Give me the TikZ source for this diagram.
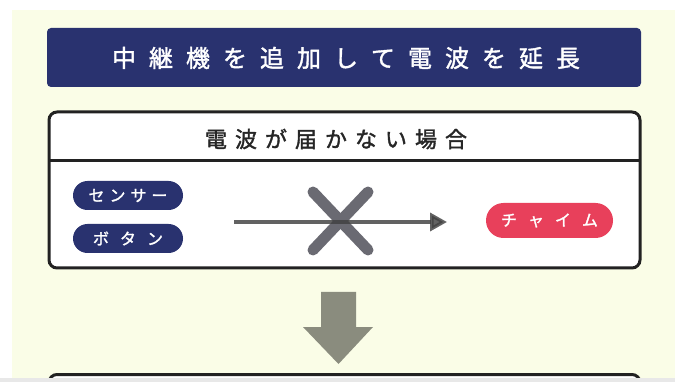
\documentclass[tikz,border=0pt]{standalone}
\usepackage{fontspec}
\setmainfont{Noto Sans CJK JP}
\newfontfamily\medfont{Noto Sans CJK JP}[FakeBold=1.6]
\usetikzlibrary{arrows.meta}
\definecolor{cream}{HTML}{FAFDE7}
\definecolor{navy}{HTML}{29326F}
\definecolor{chimered}{HTML}{E8405B}
\definecolor{xgray}{HTML}{6A6A72}
\definecolor{linegray}{HTML}{404040}
\definecolor{downgray}{HTML}{8A8C7E}
\definecolor{boxline}{HTML}{222222}
\newcommand\ksp[1]{\kern#1pt}
\tikzset{
  titlebar/.style={fill=navy, rounded corners=4pt, minimum width=594pt, minimum height=59pt, inner sep=0pt},
  titletext/.style={text=white, font=\medfont\fontsize{24pt}{28pt}\selectfont, inner sep=0pt},
  panel/.style={draw=boxline, fill=white, line width=3pt, rounded corners=8pt, minimum width=591pt, minimum height=156pt, inner sep=0pt},
  headtext/.style={text=black!85, font=\medfont\fontsize{22pt}{25pt}\selectfont, inner sep=0pt},
  navypill/.style={fill=navy, rounded corners=14.5pt, minimum width=110pt, minimum height=29pt, inner sep=0pt, text=white, font=\medfont\fontsize{16pt}{18pt}\selectfont},
  redpill/.style={fill=chimered, rounded corners=17.5pt, minimum width=127pt, minimum height=35pt, inner sep=0pt, text=white, font=\medfont\fontsize{16pt}{18pt}\selectfont},
  xstroke/.style={draw=xgray, line width=11pt, line cap=round},
  signal/.style={draw=linegray, opacity=0.82, line width=3.5pt, -{Triangle[length=17pt,width=18pt]}},
}
\begin{document}
\begin{tikzpicture}[x=1pt,y=-1pt]
\useasboundingbox (0,0) rectangle (675,382);
\fill[white] (0,0) rectangle (675,382);
\fill[cream] (12,10) rectangle (675,382);
% title
\node[titlebar] (title) at (344,57.5) {};
\node[titletext] (titlet) at (346,58) {中\ksp{13}継\ksp{13}機\ksp{13}を\ksp{13}追\ksp{13}加\ksp{13}し\ksp{13}て\ksp{13}電\ksp{13}波\ksp{13}を\ksp{13}延\ksp{13}長};
% panel
\node[panel] (box) at (344.5,190) {};
\coordinate (dl) at (49,160.5);
\coordinate (dr) at (640,160.5);
\draw[draw=boxline, line width=2.5pt] (dl) -- (dr);
\node[headtext] (head) at (336,139) {電\ksp{8}波\ksp{8}が\ksp{8}届\ksp{8}か\ksp{8}な\ksp{8}い\ksp{8}場\ksp{8}合};
% pills
\node[navypill] (sensor) at (128,195.5) {セ\ksp{5}ン\ksp{5}サ\ksp{5}ー};
\node[navypill] (button) at (128,238.5) {ボ\ksp{11}タ\ksp{11}ン};
\node[redpill] (chime) at (549.5,220.5) {チ\ksp{11}ャ\ksp{11}イ\ksp{11}ム};
% cross
\coordinate (x1) at (313,192);
\coordinate (x2) at (368,250);
\coordinate (x3) at (313,250);
\coordinate (x4) at (368,192);
\draw[xstroke] (x1) -- (x2);
\draw[xstroke] (x3) -- (x4);
% signal arrow
\coordinate (as) at (234,222);
\coordinate (ae) at (447,222);
\draw[signal] (as) -- (ae);
% down arrow
\fill[downgray] (321,292) -- (356,292) -- (356,327) -- (373,327) -- (338.5,364) -- (303,327) -- (321,327) -- cycle;
% second panel (cut off)
\draw[draw=boxline, fill=white, line width=3pt, rounded corners=8pt] (49,374.5) rectangle (640,420);
\fill[gray!18] (0,377.5) rectangle (675,382);
\end{tikzpicture}
\end{document}
